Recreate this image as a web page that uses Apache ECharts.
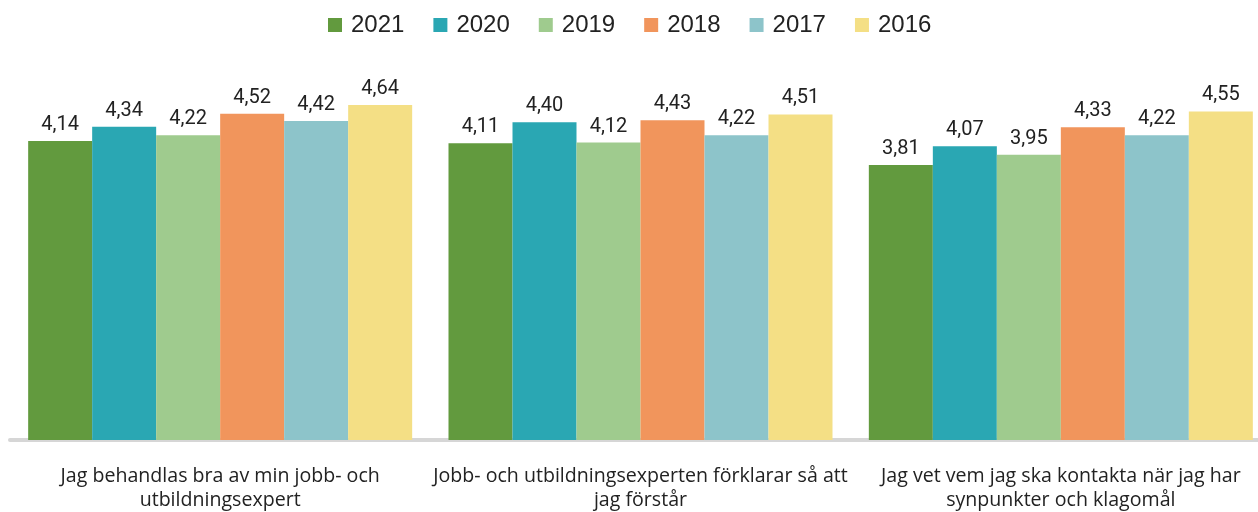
<!DOCTYPE html>
<html>
<head>
<meta charset="utf-8">
<script src="https://cdn.jsdelivr.net/npm/echarts@6/dist/echarts.min.js"></script>
<style>
  html, body { margin: 0; padding: 0; background: #fff; overflow: hidden; }
  /* the plot runs a little past the right edge of the window, like the source */
  #chart { width: 1271px; height: 512px; }
</style>
</head>
<body>
<div id="chart"></div>
<script>
var categories = [
  "Jag behandlas bra av min jobb- och\nutbildningsexpert",
  "Jobb- och utbildningsexperten förklarar så att\njag förstår",
  "Jag vet vem jag ska kontakta när jag har\nsynpunkter och klagomål"
];
var years = ["2021", "2020", "2019", "2018", "2017", "2016"];
var colors = ["#629a3e", "#2aa7b3", "#9fcb8e", "#f1955c", "#8dc4ca", "#f4df85"];
var v2021 = [4.14, 4.11, 3.81];
var v2020 = [4.34, 4.40, 4.07];
var v2019 = [4.22, 4.12, 3.95];
var v2018 = [4.52, 4.43, 4.33];
var v2017 = [4.42, 4.22, 4.22];
var v2016 = [4.64, 4.51, 4.55];
var values = [v2021, v2020, v2019, v2018, v2017, v2016];

var chart = echarts.init(document.getElementById("chart"));

var series = years.map(function (y, i) {
  return {
    name: y,
    type: "bar",
    data: values[i],
    barWidth: 64,
    barGap: 0,
    itemStyle: { color: colors[i] },
    label: {
      show: true,
      position: "top",
      distance: 6,
      color: "#222",
      fontSize: 20,
      fontFamily: "Roboto",
      formatter: function (p) { return p.value.toFixed(2).replace(".", ","); }
    }
  };
});

chart.setOption({
  animation: false,
  legend: {
    data: years,
    top: 8,
    left: 323,
    itemWidth: 14,
    itemHeight: 14,
    itemGap: 29,
    icon: "rect",
    textStyle: { fontSize: 24, color: "#222", fontFamily: "Liberation Sans", padding: [0, 0, 0, 4] }
  },
  grid: { left: 10, right: 0, top: 79, bottom: 71 },
  xAxis: {
    type: "category",
    data: categories,
    offset: 3,
    axisLine: { lineStyle: { color: "#d6d6d6", width: 4 } },
    axisTick: { show: false },
    axisLabel: {
      interval: 0,
      margin: 21,
      fontSize: 19.6,
      lineHeight: 24,
      color: "#222",
      fontFamily: "Open Sans"
    }
  },
  yAxis: {
    type: "value",
    min: 0,
    max: 5,
    show: false,
    splitLine: { show: false }
  },
  series: series
});
</script>
</body>
</html>
